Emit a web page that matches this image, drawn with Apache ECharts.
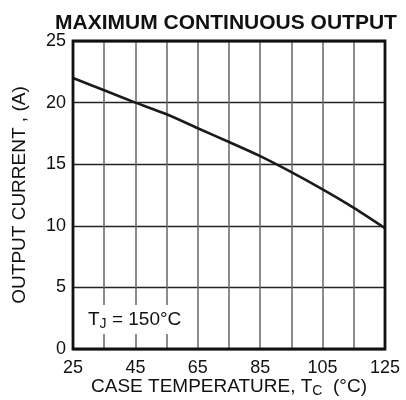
<!DOCTYPE html>
<html><head><meta charset="utf-8">
<script src="https://cdn.jsdelivr.net/npm/echarts@6/dist/echarts.min.js"></script>
<style>html,body{margin:0;padding:0;background:#fff}#c{width:406px;height:400px}</style>
</head><body><div id="c"></div>
<script>
var temps = [25, 35, 45, 55, 65, 75, 85, 95, 105, 115, 125];
var current = [22, 21, 20, 19.05, 17.92, 16.8, 15.65, 14.35, 12.95, 11.45, 9.8];
var xTicks = [25, 45, 65, 85, 105, 125];
var yTicks = [0, 5, 10, 15, 20, 25];
var titleText = 'MAXIMUM CONTINUOUS OUTPUT';
var xName = 'CASE TEMPERATURE, T{sub|C}  (°C)';
var yName = 'OUTPUT CURRENT , (A)';
var noteText = 'T{sub|J} = 150°C';

var F = '"Liberation Sans", Arial, Helvetica, sans-serif';
var chart = echarts.init(document.getElementById('c'));
var data = temps.map(function (t, i) { return [t, current[i]]; });
chart.setOption({
  animation: false,
  backgroundColor: '#fff',
  title: {
    text: titleText, left: 221, top: 8, textAlign: 'center',
    textStyle: { fontFamily: F, fontWeight: 'bold', fontSize: 21, color: '#111' }
  },
  grid: { left: 73, right: 21, top: 41, bottom: 51, show: true, borderColor: '#111', borderWidth: 2.8, z: 10,
    outerBoundsMode: 'none', containLabel: false },
  xAxis: {
    type: 'value', min: 25, max: 125, interval: 10,
    name: xName, nameLocation: 'middle', nameGap: 26, nameMoveOverlap: false,
    nameTextStyle: {
      fontFamily: F, fontSize: 19, color: '#111',
      rich: { sub: { fontFamily: F, fontSize: 14, color: '#111', verticalAlign: 'bottom', padding: [9, 0, 0, 0] } }
    },
    axisLine: { show: false }, axisTick: { show: false },
    axisLabel: {
      fontFamily: F, fontSize: 18, color: '#111', margin: 10,
      formatter: function (v) { return xTicks.indexOf(v) >= 0 ? String(v) : ''; }
    },
    splitLine: { show: true, lineStyle: { color: '#666', width: 1.5 } }
  },
  yAxis: {
    type: 'value', min: 0, max: 25, interval: 5,
    name: yName, nameLocation: 'middle', nameGap: 44, nameMoveOverlap: false,
    nameTextStyle: { fontFamily: F, fontSize: 19, color: '#111' },
    axisLine: { show: false }, axisTick: { show: false },
    axisLabel: {
      fontFamily: F, fontSize: 18, color: '#111', margin: 7,
      formatter: function (v) { return yTicks.indexOf(v) >= 0 ? String(v) : ''; }
    },
    splitLine: { show: true, lineStyle: { color: '#222', width: 1.3 } }
  },
  graphic: [{
    type: 'text', left: 85, top: 305, z: 20,
    style: {
      text: noteText, fontFamily: F, fontSize: 19, fill: '#111',
      backgroundColor: '#fff', padding: [3, 3, 3, 3],
      rich: { sub: { fontFamily: F, fontSize: 14, fill: '#111', padding: [9, 0, 0, 0] } }
    }
  }],
  series: [{
    type: 'line', data: data, smooth: 0.3, showSymbol: false, symbol: 'none',
    lineStyle: { color: '#1a1a1a', width: 2.6 }, z: 5
  }]
});
</script></body></html>
